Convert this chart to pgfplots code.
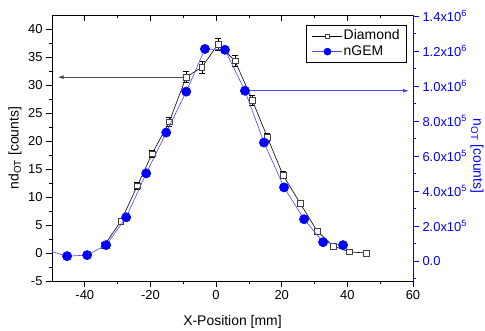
\documentclass[border=0pt]{standalone}
\usepackage{pgfplots}
\pgfplotsset{compat=1.18}
\usepackage{pgfplotstable}
\usepackage{fontspec}
\setmainfont{Liberation Sans}
\usetikzlibrary{arrows.meta}
\definecolor{ngem}{RGB}{0,0,255}
\definecolor{ngemline}{RGB}{70,70,255}

\pgfplotstableread{
x y e
-34.0 1.4 0.3
-29.0 5.7 0.4
-24.0 12.0 0.6
-19.5 17.7 0.7
-14.3 23.4 0.8
-9.1 31.4 1.0
-4.3 33.2 1.1
0.6 37.3 1.1
5.8 34.3 1.0
11.0 27.3 0.9
15.6 20.7 0.7
20.4 13.9 0.6
25.6 8.9 0.5
30.8 3.9 0.4
35.7 1.25 0.3
40.5 0.2 0.3
45.7 0.0 0.3
}\diamondtab

\pgfplotstableread{
x y
-51.5 62000
-45.4 28000
-39.3 34000
-33.5 91000
-27.4 250000
-21.3 501000
-15.2 734000
-9.1 968000
-3.4 1212000
2.7 1207000
8.8 973000
14.6 677000
20.7 421000
26.8 239000
32.6 108000
38.7 91000
}\ngemtab

\begin{document}
\begin{tikzpicture}
\useasboundingbox (-52bp,-50bp) rectangle (433bp,281bp);
\pgfplotsset{
  every axis/.append style={
    scale only axis, width=361bp, height=266bp,
    xmin=-50, xmax=60,
    tick align=outside,
    major tick length=6bp, minor tick length=3bp,
    tick label style={font=\fontsize{13}{15}\selectfont},
    label style={font=\fontsize{14}{16}\selectfont},
    axis line style={line width=0.8bp},
    every tick/.style={line width=0.8bp},
    clip=true,
  }
}
% top axis with inward ticks
\begin{axis}[
  at={(0,0)}, anchor=south west,
  axis x line*=top, axis y line=none,
  tick align=inside,
  ymin=0, ymax=1,
  xtick={-40,-20,0,20,40,60}, xticklabels={},
  minor xtick={-30,-10,10,30,50},
]
\end{axis}

% left axis: Diamond
\begin{axis}[
  at={(0,0)}, anchor=south west,
  axis x line*=bottom, axis y line*=left,
  ymin=-5, ymax=42.5,
  xtick={-40,-20,0,20,40,60}, xticklabels={-40,-20,0,20,40,60},
  minor xtick={-30,-10,10,30,50},
  ytick={-5,0,5,10,15,20,25,30,35,40},
  yticklabels={-5,0,5,10,15,20,25,30,35,40},
  minor ytick={-2.5,2.5,7.5,12.5,17.5,22.5,27.5,32.5,37.5},
  xlabel={X-Position [mm]},
  ylabel={nd\textsubscript{OT} [counts]},
  xlabel style={at={(axis description cs:0.5,-0.154)}, anchor=center},
  ylabel style={at={(axis description cs:-0.1025,0.5)}, anchor=center},
]
\addplot[black, line width=0.6bp, mark=square*, mark size=2.8bp,
  mark options={fill=white, draw=black!75, line width=0.6bp},
  error bars/.cd, y dir=both, y explicit,
  error bar style={black, line width=0.6bp},
  error mark options={rotate=90, mark size=3bp, black, line width=0.6bp}]
  table[x=x, y=y, y error=e] {\diamondtab};
\draw[gray!60!black, line width=0.9bp, -{Latex[length=6bp,width=4bp]}]
  (axis cs:-9.5,31.4) -- (axis cs:-48.3,31.4);
\end{axis}

% right axis: nGEM
\begin{axis}[
  at={(0,0)}, anchor=south west,
  axis x line=none, axis y line*=right,
  ymin=-114000, ymax=1406000,
  scaled y ticks=false,
  ytick={0,200000,400000,600000,800000,1000000,1200000,1400000},
  yticklabels={0.0,2.0x10\textsuperscript{5},4.0x10\textsuperscript{5},6.0x10\textsuperscript{5},8.0x10\textsuperscript{5},1.0x10\textsuperscript{6},1.2x10\textsuperscript{6},1.4x10\textsuperscript{6}},
  minor ytick={-100000,100000,300000,500000,700000,900000,1100000,1300000},
  y axis line style={ngem},
  ytick style={ngem},
  yticklabel style={ngem},
  ylabel={n\textsubscript{OT} [counts]},
  ylabel style={ngem, rotate=180, at={(axis description cs:1.177,0.47)}, anchor=center},
  legend style={at={(0.983,0.962)}, anchor=north east, draw=black, line width=0.6bp,
    font=\fontsize{14}{16}\selectfont, inner xsep=6bp, inner ysep=3.5bp, row sep=1bp,
    nodes={inner sep=1bp, text height=10bp, text depth=2.5bp},
    cells={anchor=west}},
  legend image code/.code={
    \draw[mark repeat=2,mark phase=2] plot coordinates {(0bp,0bp) (15bp,0bp) (30bp,0bp)};
  },
]
\addlegendimage{black, line width=0.6bp, mark=square*, mark size=2bp,
  mark options={fill=white, draw=black!75, line width=0.6bp}}
\addlegendentry{Diamond}
\addlegendimage{ngemline, line width=0.6bp, mark=*, mark size=3.5bp,
  mark options={fill=ngem, draw=ngem}}
\addlegendentry{nGEM}
\addplot[ngemline, line width=0.6bp, mark=*, mark size=4.6bp,
  mark options={fill=ngem, draw=ngem}, forget plot]
  table[x=x, y=y] {\ngemtab};
\draw[ngemline, line width=0.9bp, -{Latex[length=6bp,width=4bp]}]
  (axis cs:9.5,973000) -- (axis cs:58.8,973000);
\end{axis}
\end{tikzpicture}
\end{document}
